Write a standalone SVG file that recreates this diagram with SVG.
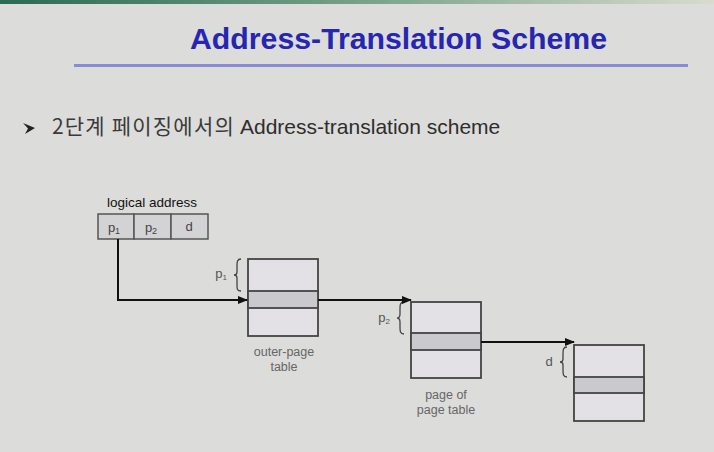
<svg xmlns="http://www.w3.org/2000/svg" width="714" height="452" viewBox="0 0 714 452">
  <defs>
    <linearGradient id="banner" x1="0" y1="0" x2="1" y2="0">
      <stop offset="0" stop-color="#2c6a52"/>
      <stop offset="0.45" stop-color="#6f9a82"/>
      <stop offset="1" stop-color="#d8dccc"/>
    </linearGradient>
    <marker id="arr" markerWidth="10" markerHeight="8" refX="9" refY="4" orient="auto" markerUnits="userSpaceOnUse">
      <path d="M0,0 L10,4 L0,8 Z" fill="#111"/>
    </marker>
  </defs>
  <style>
    .title { font-family: "Liberation Sans", Arial, sans-serif; font-weight: bold; font-size: 29px; fill: #2626b2; }
    .sub { font-family: "Liberation Sans", "Noto Sans CJK KR", sans-serif; font-size: 21px; fill: #2e2e2e; }
    .ko { font-family: "Noto Sans CJK KR", "Liberation Sans", sans-serif; font-size: 21px; letter-spacing: 1.2px; fill: #3a3a3a; }
    .lbl { font-family: "Liberation Sans", Arial, sans-serif; font-size: 12.5px; fill: #666; text-anchor: middle; }
    .la { font-family: "Liberation Sans", Arial, sans-serif; font-size: 13.5px; fill: #111; text-anchor: middle; }
    .fld { font-family: "Liberation Sans", Arial, sans-serif; font-size: 13px; fill: #444; text-anchor: middle; }
    .side { font-family: "Liberation Sans", Arial, sans-serif; font-size: 13px; fill: #555; text-anchor: middle; }
    .tbl { fill: #e3e1e5; stroke: #444; stroke-width: 1.8; }
    .hl { fill: #c9c9ce; stroke: #444; stroke-width: 1.8; }
    .box { fill: #d3d2d4; stroke: #555; stroke-width: 1.5; }
    .brace { fill: none; stroke: #444; stroke-width: 1.3; }
    .conn { fill: none; stroke: #111; stroke-width: 2; }
  </style>

  <rect x="0" y="0" width="714" height="452" fill="#dcdcda"/>
  <rect x="0" y="0" width="714" height="4" fill="url(#banner)"/>

  <g id="title">
    <text class="title" x="190" y="49" textLength="417" lengthAdjust="spacingAndGlyphs">Address-Translation Scheme</text>
    <rect x="74" y="64" width="614" height="3" fill="#8a8ad6"/>
  </g>

  <g id="subtitle">
    <path d="M23,123 L35,128 L25,134 L28,128.5 Z" fill="#222"/>
    <text class="ko" x="52" y="134">2단계 페이징에서의</text>
    <text class="sub" x="240" y="134">Address-translation scheme</text>
  </g>

  <g id="logical-address">
    <text class="la" x="152" y="207">logical address</text>
    <rect class="box" x="98" y="214" width="36" height="25"/>
    <rect class="box" x="134" y="214" width="37" height="25"/>
    <rect class="box" x="171" y="214" width="37" height="25"/>
    <text class="fld" x="114" y="232">p<tspan font-size="9" dy="2">1</tspan></text>
    <text class="fld" x="151" y="232">p<tspan font-size="9" dy="2">2</tspan></text>
    <text class="fld" x="189" y="231">d</text>
  </g>

  <g id="outer-page-table">
    <rect class="tbl" x="248" y="259" width="70" height="77"/>
    <rect class="hl" x="248" y="291" width="70" height="17"/>
    <path class="brace" d="M241,259 C237,259 237,262 237,266 L237,272 C237,274 236,275 234,275 C236,275 237,276 237,278 L237,285 C237,289 237,291 241,291"/>
    <text class="side" x="221" y="278">p<tspan font-size="8" dy="2">1</tspan></text>
    <text class="lbl" x="284" y="356">outer-page</text>
    <text class="lbl" x="284" y="371">table</text>
  </g>

  <g id="page-of-page-table">
    <rect class="tbl" x="411" y="302" width="70" height="76"/>
    <rect class="hl" x="411" y="333" width="70" height="17"/>
    <path class="brace" d="M404,302 C400,302 400,305 400,309 L400,314 C400,316 399,318 397,318 C399,318 400,320 400,322 L400,327 C400,331 400,334 404,334"/>
    <text class="side" x="384" y="322">p<tspan font-size="8" dy="2">2</tspan></text>
    <text class="lbl" x="446" y="399">page of</text>
    <text class="lbl" x="446" y="414">page table</text>
  </g>

  <g id="page">
    <rect class="tbl" x="574" y="345" width="70" height="76"/>
    <rect class="hl" x="574" y="377" width="70" height="16"/>
    <path class="brace" d="M567,347 C563,347 563,350 563,354 L563,359 C563,361 562,362 560,362 C562,362 563,363 563,365 L563,370 C563,374 563,377 567,377"/>
    <text class="side" x="549" y="366">d</text>
  </g>

  <g id="connectors">
    <path class="conn" d="M118,239 L118,300 L247,300" marker-end="url(#arr)"/>
    <path class="conn" d="M318,300 L411,300" marker-end="url(#arr)"/>
    <path class="conn" d="M481,342 L574,342" marker-end="url(#arr)"/>
  </g>
</svg>
